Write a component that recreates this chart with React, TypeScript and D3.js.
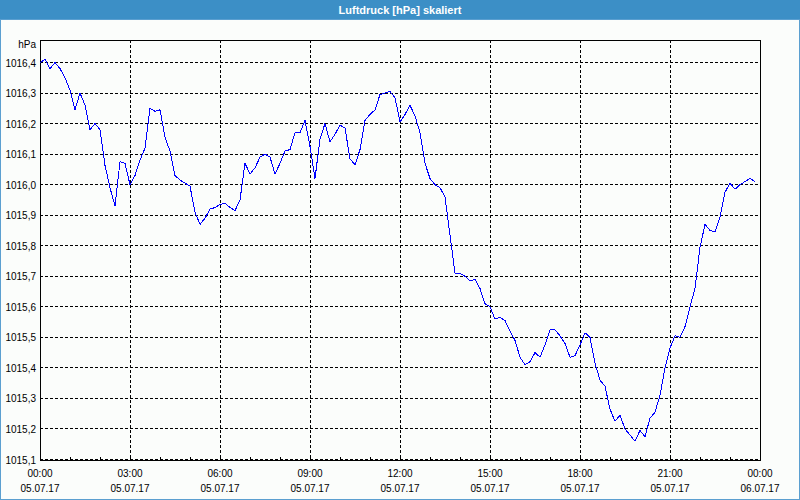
import React from "react";
import * as d3 from "d3";

// ---- data (10-minute readings, 05.07.17 00:00 .. 23:50) ----
const startTime = new Date(2017, 6, 5, 0, 0);
const endTime = new Date(2017, 6, 6, 0, 0);
const stepMinutes = 10;
const pressure: number[] = [
  1016.40, 1016.41, 1016.38, 1016.40, 1016.38, 1016.35, 1016.31, 1016.245, 1016.30, 1016.26,
  1016.18, 1016.20, 1016.18, 1016.063, 1015.99, 1015.93, 1016.075, 1016.07, 1016.00, 1016.03,
  1016.08, 1016.12, 1016.25, 1016.24, 1016.245, 1016.155, 1016.11, 1016.03, 1016.015, 1016.005,
  1015.995, 1015.91, 1015.87, 1015.89, 1015.92, 1015.925, 1015.935, 1015.94, 1015.925, 1015.915,
  1015.95, 1016.07, 1016.035, 1016.055, 1016.09, 1016.10, 1016.09, 1016.035, 1016.07, 1016.11,
  1016.115, 1016.17, 1016.17, 1016.21, 1016.125, 1016.02, 1016.15, 1016.20, 1016.14, 1016.165,
  1016.195, 1016.185, 1016.085, 1016.065, 1016.115, 1016.21, 1016.23, 1016.245, 1016.295, 1016.30,
  1016.305, 1016.285, 1016.205, 1016.23, 1016.26, 1016.225, 1016.17, 1016.07, 1016.02, 1016.00,
  1015.99, 1015.96, 1015.835, 1015.71, 1015.71, 1015.70, 1015.685, 1015.69, 1015.66, 1015.61,
  1015.60, 1015.56, 1015.565, 1015.555, 1015.52, 1015.49, 1015.435, 1015.41, 1015.42, 1015.45,
  1015.435, 1015.475, 1015.525, 1015.525, 1015.505, 1015.48, 1015.435, 1015.44, 1015.475, 1015.515,
  1015.50, 1015.415, 1015.36, 1015.34, 1015.265, 1015.225, 1015.245, 1015.20, 1015.18, 1015.16,
  1015.195, 1015.175, 1015.235, 1015.255, 1015.31, 1015.40, 1015.465, 1015.505, 1015.50, 1015.535,
  1015.60, 1015.66, 1015.795, 1015.87, 1015.85, 1015.845, 1015.895, 1015.975, 1016.005, 1015.985,
  1016.00, 1016.01, 1016.02, 1016.01,
];

const yTicks: number[] = [
  1015.1, 1015.2, 1015.3, 1015.4, 1015.5, 1015.6, 1015.7, 1015.8, 1015.9,
  1016.0, 1016.1, 1016.2, 1016.3, 1016.4,
];
const xTimeLabels: string[] = ["00:00", "03:00", "06:00", "09:00", "12:00", "15:00", "18:00", "21:00", "00:00"];
const xDateLabels: string[] = [
  "05.07.17", "05.07.17", "05.07.17", "05.07.17", "05.07.17",
  "05.07.17", "05.07.17", "05.07.17", "06.07.17",
];
const title = "Luftdruck [hPa] skaliert";
const unitLabel = "hPa";

const W = 800;
const H = 500;
const plot = { left: 40, right: 760, top: 40, bottom: 460 };
const FONT = "'Liberation Sans', Arial, sans-serif";

export default function App() {
  const x = d3.scaleTime().domain([startTime, endTime]).range([plot.left, plot.right]);
  const y = d3.scaleLinear().domain([1015.1, 1016.4]).range([459.5, 62.5]);

  const points = pressure.map((v, i) => ({
    t: d3.timeMinute.offset(startTime, i * stepMinutes),
    v,
  }));
  const line = d3
    .line<{ t: Date; v: number }>()
    .x((d) => x(d.t))
    .y((d) => y(d.v));

  const majorTicks = x.ticks(d3.timeHour.every(3)!);
  const minorTicks = x.ticks(d3.timeHour.every(1)!);
  const fmt = (v: number) => d3.format(".1f")(v).replace(".", ",");

  return (
    <svg
      width={W}
      height={H}
      style={{ position: "fixed", left: 0, top: 0, display: "block" }}
      fontFamily={FONT}
    >
      <rect x={0} y={0} width={W} height={H} fill="#fbfdfb" />
      {/* title bar */}
      <rect x={0} y={0} width={W} height={20} fill="#3c8fc6" />
      <text x={W / 2} y={14} textAnchor="middle" fill="#ffffff" fontSize={11} fontWeight="bold">
        {title}
      </text>
      {/* window border */}
      <rect x={0.5} y={19.5} width={W - 1} height={H - 20} fill="none" stroke="#5b9fd0" strokeWidth={1} />

      <g shapeRendering="crispEdges">
        {/* horizontal grid */}
        {yTicks.map((v) => (
          <line
            key={"h" + v}
            x1={plot.left}
            x2={plot.right}
            y1={Math.floor(y(v)) + 0.5}
            y2={Math.floor(y(v)) + 0.5}
            stroke="#000"
            strokeDasharray="3,2"
          />
        ))}
        {/* vertical grid */}
        {majorTicks.slice(1, -1).map((t) => (
          <line
            key={"v" + t.getTime()}
            x1={Math.round(x(t)) + 0.5}
            x2={Math.round(x(t)) + 0.5}
            y1={plot.top}
            y2={plot.bottom}
            stroke="#000"
            strokeDasharray="3,2"
          />
        ))}
        {/* frame */}
        <rect
          x={plot.left + 0.5}
          y={plot.top + 0.5}
          width={plot.right - plot.left}
          height={plot.bottom - plot.top}
          fill="none"
          stroke="#000"
        />
        {minorTicks.map((t) => (
          <line
            key={"m" + t.getTime()}
            x1={Math.round(x(t)) + 0.5}
            x2={Math.round(x(t)) + 0.5}
            y1={plot.bottom - 3}
            y2={plot.bottom + 1}
            stroke="#000"
          />
        ))}
      </g>

      {/* data line */}
      <path d={line(points) || ""} fill="none" stroke="#0000ff" strokeWidth={1} shapeRendering="crispEdges" />

      {/* y labels */}
      <text x={36} y={48} textAnchor="end" fontSize={10} fill="#000">
        {unitLabel}
      </text>
      {yTicks.map((v) => (
        <text key={"yl" + v} x={36} y={y(v) + 4} textAnchor="end" fontSize={10} fill="#000">
          {fmt(v)}
        </text>
      ))}

      {/* x labels */}
      {majorTicks.map((t, i) => (
        <g key={"xl" + t.getTime()}>
          <text x={x(t)} y={477} textAnchor="middle" fontSize={10} fill="#000">
            {xTimeLabels[i]}
          </text>
          <text x={x(t)} y={492} textAnchor="middle" fontSize={10} fill="#000">
            {xDateLabels[i]}
          </text>
        </g>
      ))}
    </svg>
  );
}
